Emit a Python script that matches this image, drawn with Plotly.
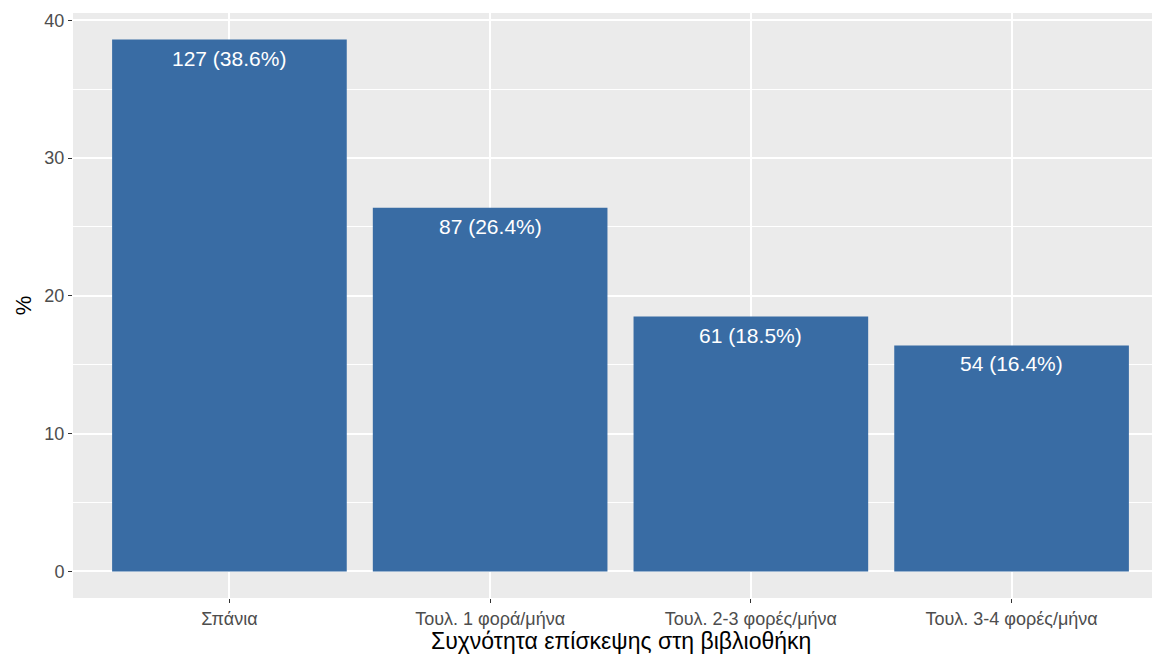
import plotly.graph_objects as go

categories = ["Σπάνια", "Τουλ. 1 φορά/μήνα", "Τουλ. 2-3 φορές/μήνα", "Τουλ. 3-4 φορές/μήνα"]
counts = [127, 87, 61, 54]
percents = [38.6, 26.4, 18.5, 16.4]

labels = [f"{c} ({p:.1f}%)" for c, p in zip(counts, percents)]

fig = go.Figure()

fig.add_trace(
    go.Bar(
        x=categories,
        y=percents,
        marker=dict(color='#396CA4', line=dict(width=0)),
        width=0.9,
        hoverinfo='skip'
    )
)

# count (pct) labels just below the top of each bar
for cat, pct, lab in zip(categories, percents, labels):
    fig.add_annotation(
        x=cat, y=pct, text=lab,
        showarrow=False, yanchor='top', yshift=-5,
        font=dict(color='white', size=21)
    )

# x axis title, placed by hand below the tick labels
fig.add_annotation(
    x=0.5, xref='paper', y=0, yref='paper',
    text='Συχνότητα επίσκεψης στη βιβλιοθήκη',
    showarrow=False, yanchor='top', yshift=-28,
    font=dict(size=23, color='black')
)

axis_font = dict(family='Liberation Sans, Arial, sans-serif', size=18, color='#4D4D4D')

fig.update_layout(
    width=1160,
    height=649,
    margin=dict(l=65, r=0, t=5, b=59),
    paper_bgcolor='white',
    plot_bgcolor='#EBEBEB',
    font=dict(family='Liberation Sans, Arial, sans-serif', color='black'),
    showlegend=False,
    xaxis=dict(
        range=[-0.6, 3.6],
        showgrid=True,
        gridcolor='white',
        gridwidth=1.5,
        ticks='outside',
        ticklen=4,
        tickcolor='#333333',
        tickfont=axis_font,
        automargin=False,
        zeroline=False,
    ),
    yaxis=dict(
        range=[-1.93, 40.53],
        tickvals=[0, 10, 20, 30, 40],
        showgrid=True,
        gridcolor='white',
        gridwidth=1.5,
        minor=dict(tickvals=[5, 15, 25, 35], showgrid=True, gridcolor='white', gridwidth=0.6),
        ticks='outside',
        ticklen=4,
        tickcolor='#333333',
        tickfont=axis_font,
        automargin=False,
        title=dict(text='%', font=dict(size=22, color='black'), standoff=6),
        zeroline=False,
    ),
)

fig.write_html("out.html")
